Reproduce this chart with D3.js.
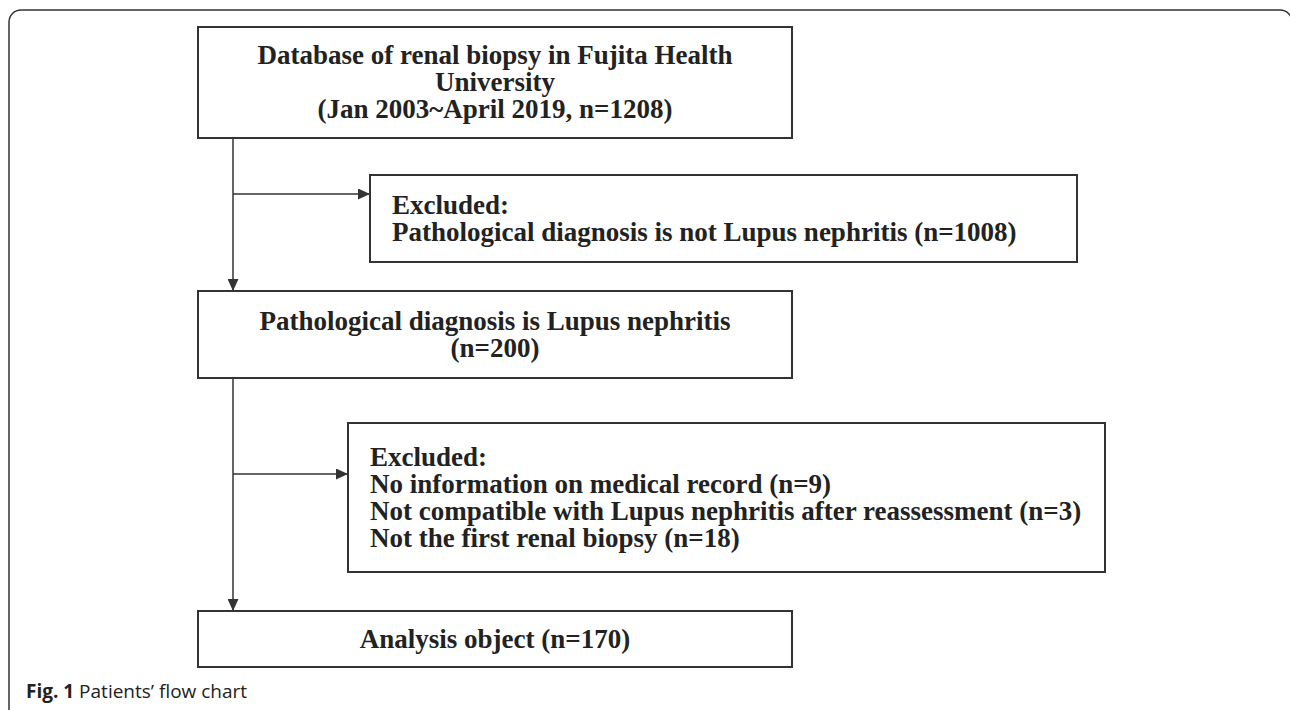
<!DOCTYPE html>
<html>
<head>
<meta charset="utf-8">
<script src="https://cdn.jsdelivr.net/npm/d3@7"></script>
<style>
  html, body { margin: 0; padding: 0; background: #fff; }
  svg { display: block; }
</style>
</head>
<body>
<svg id="chart"></svg>
<script>
// box texts of the flow chart
var mainSteps = [
  ["Database of renal biopsy in Fujita Health", "University", "(Jan 2003~April 2019, n=1208)"],
  ["Pathological diagnosis is Lupus nephritis", "(n=200)"],
  ["Analysis object (n=170)"]
];
var excludedSteps = [
  ["Excluded:", "Pathological diagnosis is not Lupus nephritis (n=1008)"],
  ["Excluded:", "No information on medical record (n=9)",
   "Not compatible with Lupus nephritis after reassessment (n=3)",
   "Not the first renal biopsy (n=18)"]
];
var captionBold = "Fig. 1";
var captionText = " Patients\u2019 flow chart";

function drawFlow() {
  var W = 1290, H = 710;
  var svg = d3.select("#chart").attr("width", W).attr("height", H);

  var ink = "#333",
      textColor = "#222",
      serif = "'Liberation Serif', 'Times New Roman', serif",
      fontSize = 27,
      lineH = 27;

  // outer frame (right and bottom edges run off the picture)
  svg.append("rect")
    .attr("x", 9).attr("y", 10)
    .attr("width", 1283).attr("height", H + 10)
    .attr("rx", 12)
    .attr("fill", "none")
    .attr("stroke", ink)
    .attr("stroke-width", 1.5);

  // layout of the boxes
  var mainBoxes = [
    {x: 198, y: 27, w: 594, h: 111},
    {x: 198, y: 291, w: 594, h: 87},
    {x: 198, y: 611, w: 594, h: 56}
  ];
  var sideBoxes = [
    {x: 370, y: 175, w: 707, h: 87},
    {x: 348, y: 423, w: 757, h: 149}
  ];
  var trunkX = 233;

  svg.append("defs").append("marker")
    .attr("id", "arrow")
    .attr("viewBox", "0 0 12 11")
    .attr("refX", 12).attr("refY", 5.5)
    .attr("markerWidth", 12).attr("markerHeight", 11)
    .attr("markerUnits", "userSpaceOnUse")
    .attr("orient", "auto")
    .append("path")
    .attr("d", "M0,0L12,5.5L0,11Z")
    .attr("fill", ink);

  // vertical trunk arrows between main boxes
  var trunks = d3.range(mainBoxes.length - 1).map(function(i) {
    return {y1: mainBoxes[i].y + mainBoxes[i].h, y2: mainBoxes[i + 1].y};
  });
  svg.selectAll(".trunk")
    .data(trunks)
    .enter().append("line")
    .attr("class", "trunk")
    .attr("x1", trunkX).attr("x2", trunkX)
    .attr("y1", function(d) { return d.y1; })
    .attr("y2", function(d) { return d.y2; })
    .attr("stroke", ink)
    .attr("stroke-width", 1.5)
    .attr("marker-end", "url(#arrow)");

  // side arrows to the exclusion boxes
  var sideY = [194, 474];
  svg.selectAll(".branch")
    .data(sideBoxes)
    .enter().append("line")
    .attr("class", "branch")
    .attr("x1", trunkX)
    .attr("x2", function(d) { return d.x; })
    .attr("y1", function(d, i) { return sideY[i]; })
    .attr("y2", function(d, i) { return sideY[i]; })
    .attr("stroke", ink)
    .attr("stroke-width", 1.5)
    .attr("marker-end", "url(#arrow)");

  function drawBoxes(cls, boxes, texts, centered) {
    var g = svg.selectAll("." + cls)
      .data(boxes)
      .enter().append("g")
      .attr("class", cls);

    g.append("rect")
      .attr("x", function(d) { return d.x; })
      .attr("y", function(d) { return d.y; })
      .attr("width", function(d) { return d.w; })
      .attr("height", function(d) { return d.h; })
      .attr("fill", "#fff")
      .attr("stroke", ink)
      .attr("stroke-width", 2);

    g.each(function(d, i) {
      var lines = texts[i];
      // baseline of first line so the block of caps is centred in the box
      var top = d.y + d.h / 2 - (lines.length - 1) * lineH / 2 + fontSize * 0.33;
      d3.select(this).selectAll("text")
        .data(lines)
        .enter().append("text")
        .attr("x", centered ? d.x + d.w / 2 : d.x + 22)
        .attr("y", function(t, j) { return top + j * lineH; })
        .attr("text-anchor", centered ? "middle" : "start")
        .attr("font-family", serif)
        .attr("font-weight", "bold")
        .attr("font-size", fontSize)
        .attr("fill", textColor)
        .text(function(t) { return t; });
    });
  }

  drawBoxes("main", mainBoxes, mainSteps, true);
  drawBoxes("side", sideBoxes, excludedSteps, false);

  // caption
  var cap = svg.append("text")
    .attr("x", 26).attr("y", 698)
    .attr("font-family", "'Open Sans', 'Noto Sans', sans-serif")
    .attr("font-size", 19)
    .attr("fill", "#222");
  cap.append("tspan").attr("font-weight", "bold").text(captionBold);
  cap.append("tspan").text(captionText);
}

drawFlow();
</script>
</body>
</html>
